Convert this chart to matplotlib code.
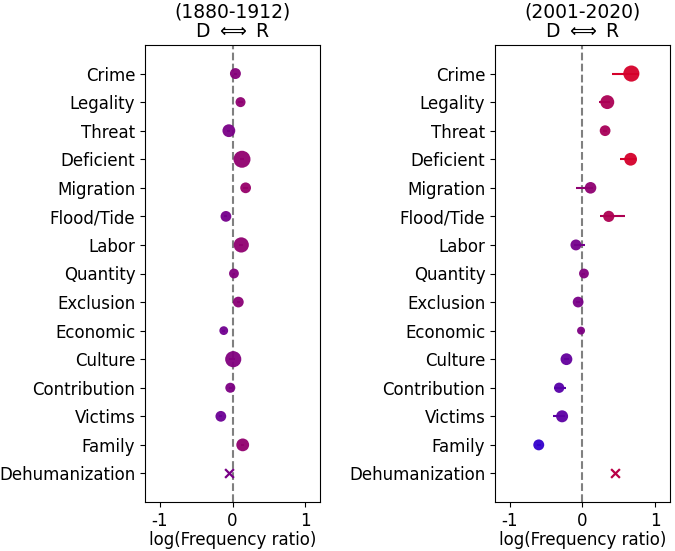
import numpy as np
import matplotlib
matplotlib.use("Agg")
import matplotlib.pyplot as plt

# --- Data ---
categories = ['Crime', 'Legality', 'Threat', 'Deficient', 'Migration', 'Flood/Tide',
              'Labor', 'Quantity', 'Exclusion', 'Economic', 'Culture',
              'Contribution', 'Victims', 'Family', 'Dehumanization']

titles = ['(1880-1912)', '(2001-2020)']

# log frequency ratios
early_vals = [0.04, 0.11, -0.05, 0.13, 0.18, -0.09, 0.12, 0.02, 0.08, -0.12,
              0.01, -0.03, -0.16, 0.14, -0.05]
late_vals = [0.67, 0.34, 0.31, 0.66, 0.11, 0.36, -0.09, 0.02, -0.06, -0.02,
             -0.22, -0.32, -0.28, -0.60, 0.45]

# error bar extents (lower, upper)
early_lo = [0.02, 0.03, 0.02, 0.03, 0.03, 0.02, 0.03, 0.02, 0.02, 0.02,
            0.06, 0.02, 0.02, 0.02, 0.0]
early_hi = [0.02, 0.03, 0.02, 0.03, 0.03, 0.02, 0.03, 0.02, 0.02, 0.02,
            0.03, 0.02, 0.02, 0.02, 0.0]
late_lo = [0.26, 0.11, 0.03, 0.14, 0.20, 0.12, 0.03, 0.02, 0.03, 0.02,
           0.03, 0.07, 0.12, 0.03, 0.0]
late_hi = [0.10, 0.04, 0.03, 0.08, 0.04, 0.22, 0.13, 0.02, 0.03, 0.02,
           0.03, 0.10, 0.04, 0.03, 0.0]

# marker sizes (scatter area, pt^2)
early_sizes = [62, 52, 85, 150, 60, 60, 120, 50, 60, 40, 135, 52, 60, 85, 0]
late_sizes = [135, 100, 60, 85, 70, 65, 62, 50, 60, 33, 72, 55, 75, 62, 0]


def value_color(v):
    r = np.clip(0.5 + 0.5 * v, 0, 1)
    return (r, 0.0, 1 - r)


def draw_panel(ax, vals, lo, hi, sizes, title):
    n = len(categories)
    y = np.arange(n)
    ax.axvline(0, color='gray', linestyle='--', linewidth=1.5, zorder=1)
    for i in range(n):
        c = value_color(vals[i])
        if categories[i] == 'Dehumanization':
            ax.scatter(vals[i], y[i], marker='x', s=40, color=c, linewidths=1.6, zorder=3)
            continue
        ax.errorbar(vals[i], y[i], xerr=[[lo[i]], [hi[i]]], color=c,
                    linewidth=1.5, zorder=2)
        ax.scatter(vals[i], y[i], s=sizes[i], color=c, alpha=0.95,
                   edgecolors='none', zorder=3)
    ax.set_yticks(y)
    ax.set_yticklabels(categories, fontsize=12)
    ax.set_ylim(n, -1)
    ax.set_xlim(-1.2, 1.2)
    ax.set_xticks([-1, 0, 1])
    ax.set_xticklabels(['-1', '0', '1'], fontsize=12)
    ax.set_xlabel('log(Frequency ratio)', fontsize=12, labelpad=1)
    ax.set_title(title + '\nD $\\Longleftrightarrow$ R', fontsize=13.5,
                 linespacing=1.0)


plt.rcParams['mathtext.fontset'] = 'dejavusans'
fig = plt.figure(figsize=(6.75, 5.51), dpi=100)
ax1 = fig.add_axes([145 / 675, 49 / 551, 175 / 675, 457 / 551])
ax2 = fig.add_axes([495 / 675, 49 / 551, 175 / 675, 457 / 551])

draw_panel(ax1, early_vals, early_lo, early_hi, early_sizes, titles[0])
draw_panel(ax2, late_vals, late_lo, late_hi, late_sizes, titles[1])

fig.savefig("out.png", dpi=100)
